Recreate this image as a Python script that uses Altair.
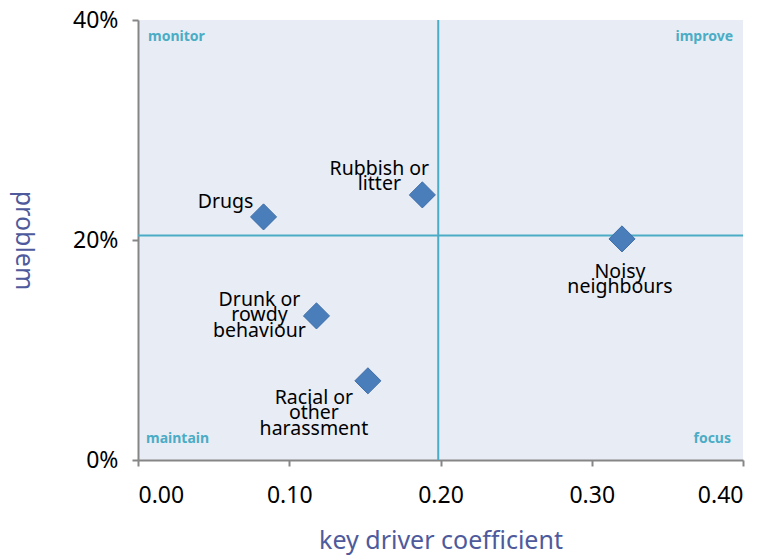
import altair as alt
import pandas as pd

# data
labels = [["Drugs"], ["Rubbish or", "litter"], ["Noisy", "neighbours"],
          ["Drunk or", "rowdy", "behaviour"], ["Racial or", "other", "harassment"]]
names = ["Drugs", "Rubbish or litter", "Noisy neighbours", "Drunk or rowdy behaviour", "Racial or other harassment"]
coef = [0.083, 0.188, 0.320, 0.118, 0.152]
problem = [0.221, 0.241, 0.201, 0.131, 0.072]
x_ref = [0.1985]
y_ref = [0.204]
quadrants = ["monitor", "improve", "maintain", "focus"]
quad_x = [0.0, 0.4, 0.0, 0.4]
quad_y = [0.4, 0.4, 0.0, 0.0]

# label placement (style): offset of first line from the point
label_offsets = [(-38, -15), (-43, -26), (-2, 33), (-57, -16), (-54, 17)]
quad_style = [("left", 10, 17), ("right", -10, 17), ("left", 8, -21), ("right", -12, -21)]

FONT = "Noto Sans"
ACCENT = "#4BACC6"
TITLE = "#4E5A9C"

df = pd.DataFrame({"name": names, "coef": coef, "problem": problem})

xs = alt.Scale(domain=[0, 0.4], nice=False)
ys = alt.Scale(domain=[0, 0.4], nice=False)

x_enc = alt.X("coef:Q", scale=xs, axis=alt.Axis(
    title="key driver coefficient", values=[0, 0.1, 0.2, 0.3, 0.4], format=".2f",
    grid=False, domainColor="#868686", domainWidth=2, tickColor="#868686", tickWidth=2,
    tickSize=6, labelFontSize=23, labelColor="#000000", labelFont=FONT, labelPadding=18,
    titleFont=FONT, titleFontSize=25, titleColor=TITLE, titleFontWeight="normal", titlePadding=21))
y_enc = alt.Y("problem:Q", scale=ys, axis=alt.Axis(
    title="problem", values=[0, 0.2, 0.4], format=".0%",
    grid=False, domainColor="#868686", domainWidth=2, tickColor="#868686", tickWidth=2,
    tickSize=6, labelFontSize=23, labelColor="#000000", labelFont=FONT, labelPadding=14,
    titleFont=FONT, titleFontSize=25, titleColor=TITLE, titleFontWeight="normal",
    titleAngle=90, titlePadding=62))

base = alt.Chart(df)

points = base.mark_point(shape="diamond", filled=True, size=680, color="#4A7EBB",
                         opacity=1, stroke="#3F6EA8", strokeWidth=1).encode(x=x_enc, y=y_enc)

vline = alt.Chart(pd.DataFrame({"v": x_ref})).mark_rule(color=ACCENT, strokeWidth=2).encode(
    x=alt.X("v:Q", scale=xs))
hline = alt.Chart(pd.DataFrame({"v": y_ref})).mark_rule(color=ACCENT, strokeWidth=2).encode(
    y=alt.Y("v:Q", scale=ys))

text_layers = []
for i, (lab, (dx, dy)) in enumerate(zip(labels, label_offsets)):
    d = pd.DataFrame({"coef": [coef[i]], "problem": [problem[i]]})
    t = alt.Chart(d).mark_text(text=lab, align="center", baseline="middle", dx=dx, dy=dy,
                               fontSize=19.5, font=FONT, lineHeight=15.5, color="#000000").encode(
        x=alt.X("coef:Q", scale=xs), y=alt.Y("problem:Q", scale=ys))
    text_layers.append(t)

quad_layers = []
for i, q in enumerate(quadrants):
    al, dx, dy = quad_style[i]
    d = pd.DataFrame({"coef": [quad_x[i]], "problem": [quad_y[i]]})
    t = alt.Chart(d).mark_text(text=q, align=al, baseline="middle", dx=dx, dy=dy,
                               fontSize=14, fontWeight="bold", font=FONT, color=ACCENT).encode(
        x=alt.X("coef:Q", scale=xs), y=alt.Y("problem:Q", scale=ys))
    quad_layers.append(t)

chart = alt.layer(vline, hline, points, *text_layers, *quad_layers).properties(
    width=605, height=440,
    autosize=alt.AutoSizeParams(type="none"),
    padding={"left": 130, "top": 12, "right": 10, "bottom": 96},
    background="#FFFFFF",
).configure_view(fill="#E8ECF4", stroke=None)

chart.save("out.html", embed_options={"renderer": "svg", "actions": False})
